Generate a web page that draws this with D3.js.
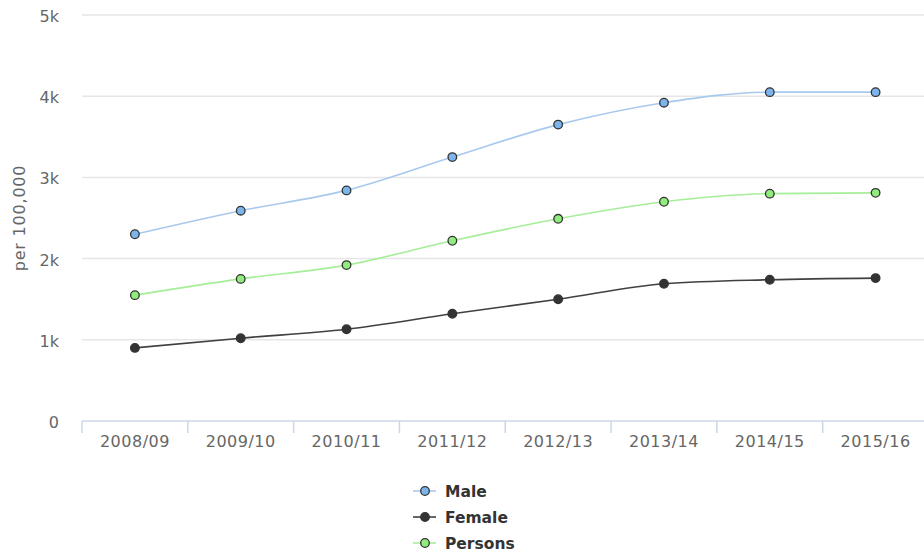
<!DOCTYPE html>
<meta charset="utf-8">
<style>
    body { margin: 0; background: #fff; }
    text { font-family: "DejaVu Sans", sans-serif; }
    .grid line { stroke: #e6e6e6; stroke-width: 1.5px; }
    .tick-label { font-size: 16px; fill: #666; }
    .legend text { font-size: 15.5px; font-weight: bold; fill: #333; }
</style>
<body>
<script src="https://d3js.org/d3.v7.min.js"></script>
<script>

const categories = ["2008/09", "2009/10", "2010/11", "2011/12", "2012/13", "2013/14", "2014/15", "2015/16"];
const male = [2300, 2590, 2840, 3250, 3650, 3920, 4050, 4050];
const female = [900, 1020, 1130, 1320, 1500, 1690, 1740, 1760];
const persons = [1550, 1750, 1920, 2220, 2490, 2700, 2800, 2810];
const yTicks = [0, 1000, 2000, 3000, 4000, 5000];
const yTickLabels = ["0", "1k", "2k", "3k", "4k", "5k"];

const series = [
    { name: "Male", values: male, line: "#a8c9ee", fill: "#7cb5ec" },
    { name: "Female", values: female, line: "#404040", fill: "#333333" },
    { name: "Persons", values: persons, line: "#a6ee98", fill: "#90ed7d" }
];

const width = 924, height = 557;
// plot area runs past the right edge of the picture
const plotLeft = 82, plotRight = 928.5, plotTop = 15, plotBottom = 421;

const svg = d3.select("body").append("svg")
    .attr("width", width)
    .attr("height", height);

const x = d3.scaleBand().domain(categories).range([plotLeft, plotRight]);
const y = d3.scaleLinear().domain([0, 5000]).range([plotBottom, plotTop]);

// gridlines
svg.append("g").attr("class", "grid")
    .selectAll("line")
    .data(yTicks.filter(d => d > 0))
    .enter().append("line")
    .attr("x1", plotLeft).attr("x2", plotRight)
    .attr("y1", d => y(d)).attr("y2", d => y(d));

// y labels
svg.append("g")
    .selectAll("text")
    .data(yTicks)
    .enter().append("text")
    .attr("class", "tick-label")
    .attr("x", 59)
    .attr("y", d => y(d) + 7)
    .attr("text-anchor", "end")
    .text((d, i) => yTickLabels[i]);

svg.append("text")
    .attr("class", "tick-label")
    .attr("transform", `translate(25,218) rotate(-90)`)
    .attr("text-anchor", "middle")
    .style("letter-spacing", "0.8px")
    .text("per 100,000");

// x axis
const xAxis = svg.append("g").attr("transform", `translate(0,${plotBottom})`);
xAxis.append("line")
    .attr("x1", plotLeft).attr("x2", plotRight)
    .attr("stroke", "#ccd6eb").attr("stroke-width", 1.5);
xAxis.selectAll(".tk")
    .data(categories)
    .enter().append("line")
    .attr("x1", d => x(d)).attr("x2", d => x(d))
    .attr("y1", 0).attr("y2", 12)
    .attr("stroke", "#ccd6eb").attr("stroke-width", 1.5);
xAxis.selectAll(".lbl")
    .data(categories)
    .enter().append("text")
    .attr("class", "tick-label")
    .attr("x", d => x(d) + x.bandwidth() / 2)
    .attr("y", 26)
    .attr("text-anchor", "middle")
    .style("letter-spacing", "0.5px")
    .text(d => d);

const line = d3.line()
    .x((d, i) => x(categories[i]) + x.bandwidth() / 2)
    .y(d => y(d))
    .curve(d3.curveMonotoneX);

series.forEach(s => {
    svg.append("path")
        .datum(s.values)
        .attr("fill", "none")
        .attr("stroke", s.line)
        .attr("stroke-width", 1.6)
        .attr("d", line);
    svg.append("g")
        .selectAll("circle")
        .data(s.values)
        .enter().append("circle")
        .attr("cx", (d, i) => x(categories[i]) + x.bandwidth() / 2)
        .attr("cy", d => y(d))
        .attr("r", 4.3)
        .attr("fill", s.fill)
        .attr("stroke", "#333")
        .attr("stroke-width", 1.3);
});

// legend
const legend = svg.append("g").attr("class", "legend");
series.forEach((s, i) => {
    const ly = 491 + i * 26;
    const g = legend.append("g").attr("transform", `translate(413,${ly})`);
    g.append("line").attr("x1", 0).attr("x2", 23).attr("y1", 0).attr("y2", 0)
        .attr("stroke", s.line).attr("stroke-width", 1.6);
    g.append("circle").attr("cx", 12).attr("cy", 0).attr("r", 4.3)
        .attr("fill", s.fill).attr("stroke", "#333").attr("stroke-width", 1.3);
    g.append("text").attr("x", 32).attr("y", 6).text(s.name);
});

</script>
</body>
</html>
